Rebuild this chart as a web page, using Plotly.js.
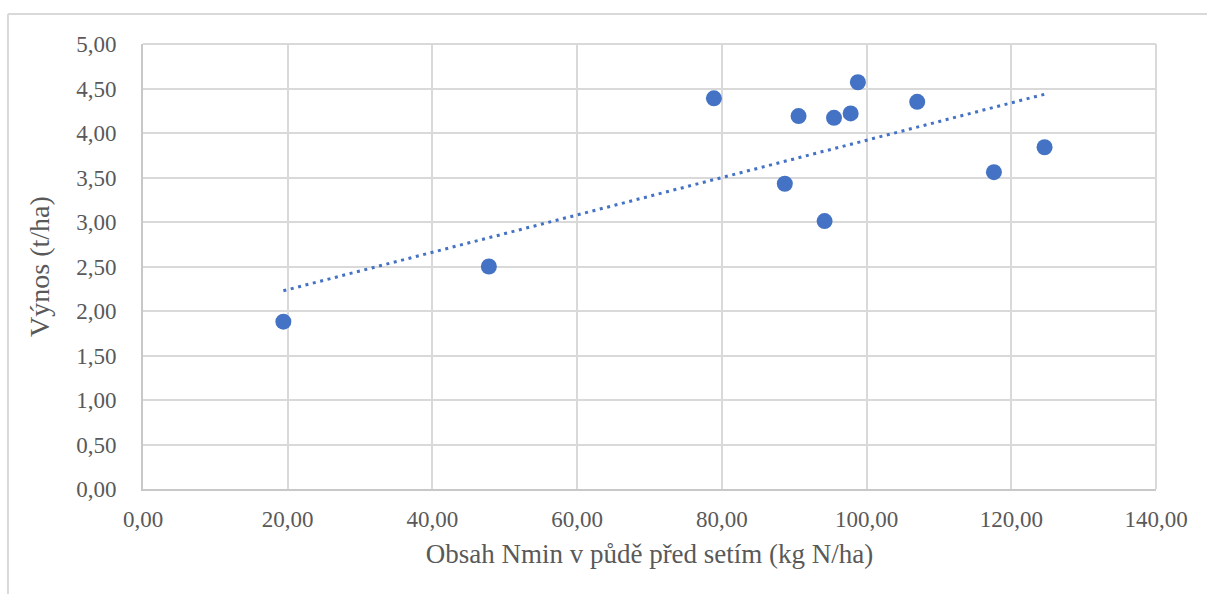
<!DOCTYPE html>
<html>
<head>
<meta charset="utf-8">
<script src="https://cdn.plot.ly/plotly-3.0.1.min.js"></script>
<style>
html, body { margin: 0; padding: 0; background: #fff; }
#chart { width: 1207px; height: 594px; }
</style>
</head>
<body>
<div id="chart"></div>
<script>
// Data
const nmin = [19.4, 47.8, 78.9, 88.7, 90.6, 94.2, 95.5, 97.8, 98.8, 107.0, 117.6, 124.6];
const vynos = [1.88, 2.50, 4.39, 3.43, 4.19, 3.01, 4.17, 4.22, 4.57, 4.35, 3.56, 3.84];
const xTickVals = [0, 20, 40, 60, 80, 100, 120, 140];
const yTickVals = [0, 0.5, 1, 1.5, 2, 2.5, 3, 3.5, 4, 4.5, 5];
const fmt = v => v.toFixed(2).replace('.', ',');

// Linear trendline (least squares) computed from the data
const n = nmin.length;
const mx = nmin.reduce((a, b) => a + b, 0) / n;
const my = vynos.reduce((a, b) => a + b, 0) / n;
let sxy = 0, sxx = 0;
for (let i = 0; i < n; i++) { sxy += (nmin[i] - mx) * (vynos[i] - my); sxx += (nmin[i] - mx) ** 2; }
const slope = sxy / sxx, icpt = my - slope * mx;
const tx = [Math.min(...nmin), Math.max(...nmin)];
const ty = tx.map(x => icpt + slope * x);

const font = 'Liberation Serif';
const col = '#4472C4';
const txtCol = '#595959';

const traces = [
  { x: tx, y: ty, mode: 'lines', type: 'scatter', hoverinfo: 'skip',
    line: { color: col, width: 3, dash: '3px,4.6px' } },
  { x: nmin, y: vynos, mode: 'markers', type: 'scatter',
    marker: { color: col, size: 16 } }
];

const layout = {
  width: 1207, height: 594,
  margin: { l: 143, r: 51, t: 44, b: 105 },
  paper_bgcolor: '#fff', plot_bgcolor: '#fff',
  showlegend: false,
  font: { family: font, size: 23, color: txtCol },
  xaxis: {
    range: [0, 140], tickvals: xTickVals, ticktext: xTickVals.map(fmt),
    showgrid: true, gridcolor: '#d9d9d9', gridwidth: 2,
    showline: true, linecolor: '#c8c8c8', linewidth: 2, zeroline: false,
    ticks: '', ticklabelstandoff: 8,
    tickfont: { family: font, size: 23, color: txtCol },
    title: { text: 'Obsah Nmin v půdě před setím (kg N/ha)', standoff: 14,
      font: { family: font, size: 27, color: txtCol } }
  },
  yaxis: {
    range: [0, 5], tickvals: yTickVals, ticktext: yTickVals.map(fmt),
    showgrid: true, gridcolor: '#d9d9d9', gridwidth: 2,
    showline: true, linecolor: '#c8c8c8', linewidth: 2, zeroline: false,
    ticks: '', ticklabelstandoff: 20,
    tickfont: { family: font, size: 23, color: txtCol },
    title: { text: 'Výnos (t/ha)', standoff: 18,
      font: { family: font, size: 28, color: txtCol } }
  },
  shapes: [
    { type: 'line', xref: 'paper', yref: 'paper', x0: -0.1333, x1: -0.1333, y0: -0.3, y1: 1.0674,
      line: { color: '#d9d9d9', width: 2 } },
    { type: 'line', xref: 'paper', yref: 'paper', x0: -0.1333, x1: 1.1, y0: 1.0674, y1: 1.0674,
      line: { color: '#d9d9d9', width: 2 } },
    { type: 'line', xref: 'paper', yref: 'paper', x0: 0, x1: 1, y0: 1, y1: 1,
      line: { color: '#d9d9d9', width: 2 }, layer: 'below' },
    { type: 'line', xref: 'paper', yref: 'paper', x0: 1, x1: 1, y0: 0, y1: 1,
      line: { color: '#d9d9d9', width: 2 }, layer: 'below' }
  ]
};

Plotly.newPlot('chart', traces, layout, { displayModeBar: false, staticPlot: true });
</script>
</body>
</html>
